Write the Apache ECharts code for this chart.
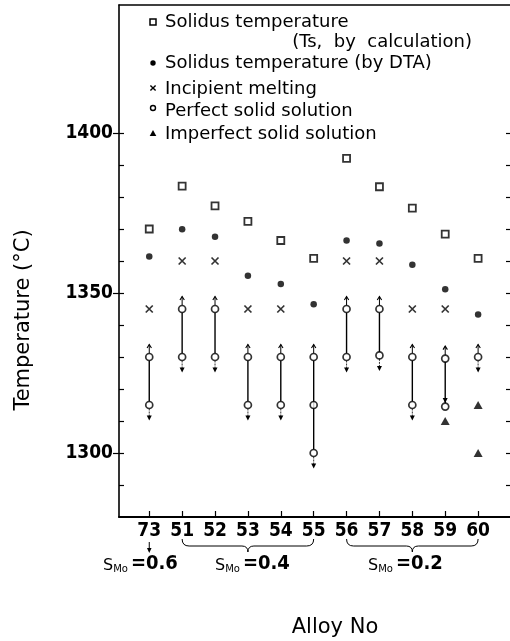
<!DOCTYPE html>
<html>
<head>
<meta charset="utf-8">
<script src="https://cdn.jsdelivr.net/npm/echarts@6/dist/echarts.min.js"></script>
<style>
  html, body { margin: 0; padding: 0; background: #fff; }
  #chart { width: 510px; height: 641px; }
</style>
</head>
<body>
<div id="chart"></div>
<script>
// alloy numbers, left to right
const alloys = ['73', '51', '52', '53', '54', '55', '56', '57', '58', '59', '60'];

// solidus temperature Ts, by calculation (open squares)
const tsCalc = [1370, 1383.4, 1377.2, 1372.4, 1366.4, 1360.8, 1392.1, 1383.2, 1376.5, 1368.4, 1360.8];
// solidus temperature by DTA (filled dots)
const tsDta = [1361.4, 1369.9, 1367.6, 1355.4, 1352.8, 1346.5, 1366.4, 1365.5, 1358.8, 1351.2, 1343.3];
// incipient melting (crosses)
const incipient = [1345, 1360, 1360, 1345, 1345, null, 1360, 1360, 1345, 1345, null];

// perfect solid solution (open circles): upper, middle and lower circle of each range
const perfectTop = [1330, 1345, 1345, 1330, 1330, 1330, 1345, 1345, 1330, 1329.5, 1330];
const perfectMid = [null, null, null, null, null, 1315, null, null, null, null, null];
const perfectBottom = [1315, 1330, 1330, 1315, 1315, 1300, 1330, 1330.5, 1315, 1314.5, null];
// alloys whose down arrow sits on the connecting line
const arrowOnLine = ['59'];

// imperfect solid solution (filled triangles)
const imperfectAlloy = ['59', '60', '60'];
const imperfectTemp = [1310, 1315, 1300];

// axis ticks
const yLabels = [1300, 1350, 1400];
const minorTicks = [1290, 1300, 1310, 1320, 1330, 1340, 1350, 1360, 1370, 1380, 1390, 1400];

// S_Mo groups under the axis
const smoGroups = [
  { from: '73', to: '73', value: '0.6' },
  { from: '51', to: '55', value: '0.4' },
  { from: '56', to: '60', value: '0.2' }
];

const pts = arr => arr.map((v, i) => [i, v]).filter(d => d[1] != null);
const idx = a => alloys.indexOf(a);
const INK = '#000';

const tickFont = {
  fontFamily: '"Liberation Sans Narrow", "Arial Narrow", "DejaVu Sans Condensed", sans-serif',
  fontWeight: 'bold',
  fontSize: 19,
  color: INK
};

const renderRange = (params, api) => {
  const i = api.value(0);
  const topV = api.value(1);
  const botV = api.value(2);
  const top = api.coord([i, topV]);
  const bot = isNaN(botV) ? top : api.coord([i, botV]);
  const x = top[0];
  const r = 3.5;
  const onLine = arrowOnLine.indexOf(alloys[i]) >= 0;
  const children = [];
  if (bot[1] - top[1] > 1) {
    children.push({ type: 'line', shape: { x1: x, y1: top[1] + r, x2: x, y2: bot[1] - r }, style: { stroke: INK, lineWidth: 1.4 } });
  }
  // up arrow above the top circle
  const ua = top[1] - r;
  children.push({ type: 'line', shape: { x1: x, y1: ua, x2: x, y2: ua - 9 }, style: { stroke: INK, lineWidth: 1 } });
  children.push({
    type: 'polyline',
    shape: { points: [[x - 2.2, ua - 5.5], [x, ua - 9], [x + 2.2, ua - 5.5]] },
    style: { stroke: INK, lineWidth: 1.1, fill: null }
  });
  if (onLine) {
    const tip = bot[1] - r;
    children.push({
      type: 'polygon',
      shape: { points: [[x - 2.5, tip - 5], [x + 2.5, tip - 5], [x, tip]] },
      style: { fill: INK }
    });
  } else {
    const da = bot[1] + r;
    children.push({ type: 'line', shape: { x1: x, y1: da, x2: x, y2: da + 8 }, style: { stroke: INK, lineWidth: 0.8, lineDash: [2, 1] } });
    children.push({
      type: 'polygon',
      shape: { points: [[x - 2.5, da + 7], [x + 2.5, da + 7], [x, da + 12]] },
      style: { fill: INK }
    });
  }
  return { type: 'group', children };
};

const chart = echarts.init(document.getElementById('chart'), null, { renderer: 'canvas' });

const yBase = {
  type: 'value',
  min: 1280,
  max: 1440,
  interval: 10,
  splitLine: { show: false }
};

const option = {
  animation: false,
  backgroundColor: '#fff',
  grid: { left: 119, right: 0, top: 5, bottom: 124 },
  xAxis: [
    {
      type: 'value',
      position: 'bottom',
      min: -0.92,
      max: 10.97,
      axisLine: { show: true, onZero: false, lineStyle: { color: INK, width: 2 } },
      axisTick: {
        show: true,
        inside: true,
        length: 6,
        customValues: alloys.map((a, i) => i),
        lineStyle: { color: INK, width: 1.2 }
      },
      axisLabel: {
        show: true,
        margin: 5,
        customValues: alloys.map((a, i) => i),
        formatter: v => alloys[Math.round(v)],
        ...tickFont
      },
      splitLine: { show: false }
    },
    {
      type: 'value',
      position: 'top',
      min: -0.92,
      max: 10.97,
      axisLine: { show: true, onZero: false, lineStyle: { color: INK, width: 1.5 } },
      axisTick: { show: false },
      axisLabel: { show: false },
      splitLine: { show: false }
    }
  ],
  yAxis: [
    {
      ...yBase,
      position: 'left',
      axisLine: { show: true, onZero: false, lineStyle: { color: INK, width: 1.6 } },
      axisTick: { show: true, inside: false, length: 6, customValues: yLabels, lineStyle: { color: INK, width: 1.2 } },
      axisLabel: { show: true, margin: 6, customValues: yLabels, formatter: v => String(v), ...tickFont }
    },
    {
      ...yBase,
      position: 'left',
      offset: 0,
      axisLine: { show: false, onZero: false },
      axisTick: { show: true, inside: true, length: 5, customValues: minorTicks, lineStyle: { color: INK, width: 1.2 } },
      axisLabel: { show: false }
    },
    {
      ...yBase,
      position: 'right',
      axisLine: { show: false, onZero: false },
      axisTick: { show: true, inside: true, length: 4, customValues: minorTicks, lineStyle: { color: INK, width: 1.2 } },
      axisLabel: { show: false }
    }
  ],
  series: [
    {
      name: 'Perfect range',
      type: 'custom',
      renderItem: renderRange,
      data: perfectTop.map((v, i) => [i, v, perfectBottom[i] == null ? NaN : perfectBottom[i]]),
      z: 1
    },
    {
      name: 'Solidus temperature (Ts, by calculation)',
      type: 'scatter',
      symbol: 'rect',
      symbolSize: 7,
      itemStyle: { color: '#fff', borderColor: INK, borderWidth: 1.8 },
      data: pts(tsCalc),
      z: 3
    },
    {
      name: 'Solidus temperature (by DTA)',
      type: 'scatter',
      symbol: 'circle',
      symbolSize: 6.5,
      itemStyle: { color: INK },
      data: pts(tsDta),
      z: 3
    },
    {
      name: 'Incipient melting',
      type: 'scatter',
      symbol: 'path://M0,0L10,10M10,0L0,10',
      symbolSize: 7,
      itemStyle: { color: 'transparent', borderColor: INK, borderWidth: 1.7 },
      data: pts(incipient),
      z: 3
    },
    {
      name: 'Perfect solid solution',
      type: 'scatter',
      symbol: 'circle',
      symbolSize: 7,
      itemStyle: { color: '#fff', borderColor: INK, borderWidth: 1.7 },
      data: pts(perfectTop).concat(pts(perfectMid), pts(perfectBottom)),
      z: 3
    },
    {
      name: 'Imperfect solid solution',
      type: 'scatter',
      symbol: 'triangle',
      symbolSize: [9, 8],
      itemStyle: { color: INK },
      data: imperfectAlloy.map((a, k) => [idx(a), imperfectTemp[k]]),
      z: 3
    }
  ]
};

chart.setOption(option);

// legend, axis titles and S_Mo annotations
const textFont = '"DejaVu Sans", Verdana, sans-serif';
const legendRows = [
  { y: 21, text: 'Solidus temperature' },
  { y: 62, text: 'Solidus temperature (by DTA)' },
  { y: 88, text: 'Incipient melting' },
  { y: 110, text: 'Perfect solid solution' },
  { y: 133, text: 'Imperfect solid solution' }
];
const sx = 153;
const ink = { stroke: INK, lineWidth: 1 };
const graphics = [];
legendRows.forEach(r => {
  graphics.push({
    type: 'text', x: 165, y: r.y + 1,
    style: { text: r.text, font: '18px ' + textFont, fill: INK, textVerticalAlign: 'middle' }
  });
});
graphics.push({
  type: 'text', x: 472, y: 42,
  style: { text: '(Ts,  by  calculation)', font: '18px ' + textFont, fill: INK, textAlign: 'right', textVerticalAlign: 'middle' }
});
graphics.push({ type: 'rect', shape: { x: sx - 3, y: 19, width: 6, height: 6 }, style: { fill: '#fff', stroke: INK, lineWidth: 1.5 } });
graphics.push({ type: 'circle', shape: { cx: sx, cy: 63, r: 2.7 }, style: { fill: INK } });
graphics.push({ type: 'line', shape: { x1: sx - 2.6, y1: 85.5, x2: sx + 2.6, y2: 90.5 }, style: { stroke: INK, lineWidth: 1.4 } });
graphics.push({ type: 'line', shape: { x1: sx + 2.6, y1: 85.5, x2: sx - 2.6, y2: 90.5 }, style: { stroke: INK, lineWidth: 1.4 } });
graphics.push({ type: 'circle', shape: { cx: sx, cy: 108, r: 2.5 }, style: { fill: '#fff', stroke: INK, lineWidth: 1.4 } });
graphics.push({ type: 'polygon', shape: { points: [[sx - 3.3, 136], [sx + 3.3, 136], [sx, 130]] }, style: { fill: INK } });

graphics.push({
  type: 'text', x: 335, y: 628,
  style: { text: 'Alloy No', font: '21px ' + textFont, fill: INK, textAlign: 'center', textVerticalAlign: 'middle' }
});
graphics.push({
  type: 'text', x: 24, y: 320, rotation: Math.PI / 2,
  style: { text: 'Temperature (°C)', font: '21px ' + textFont, fill: INK, textAlign: 'center', textVerticalAlign: 'middle' }
});

const px = a => chart.convertToPixel({ xAxisIndex: 0 }, idx(a));
const quad = (x1, y1, cx, cy, x2, y2) => ({
  type: 'bezierCurve',
  shape: { x1, y1, cpx1: cx, cpy1: cy, x2, y2 },
  style: { ...ink, fill: null }
});
const seg = (x1, y1, x2, y2) => ({ type: 'line', shape: { x1, y1, x2, y2 }, style: ink });
smoGroups.forEach(g => {
  const x1 = px(g.from);
  const x2 = px(g.to);
  const xm = (x1 + x2) / 2;
  if (g.from === g.to) {
    graphics.push(seg(xm, 542, xm, 549));
    graphics.push({ type: 'polygon', shape: { points: [[xm - 2.3, 548], [xm + 2.3, 548], [xm, 553]] }, style: { fill: INK } });
  } else {
    graphics.push(quad(x1, 539, x1, 546, x1 + 7, 546));
    graphics.push(seg(x1 + 7, 546, xm - 6, 546));
    graphics.push(quad(xm - 6, 546, xm, 546, xm, 552));
    graphics.push(quad(xm, 552, xm, 546, xm + 6, 546));
    graphics.push(seg(xm + 6, 546, x2 - 7, 546));
    graphics.push(quad(x2 - 7, 546, x2, 546, x2, 539));
  }
});
const smoX = [103, 215, 368];
smoGroups.forEach((g, k) => {
  graphics.push({
    type: 'text', x: smoX[k], y: 564,
    style: {
      text: '{s|S}{m|Mo}{v|=' + g.value + '}',
      textVerticalAlign: 'middle',
      rich: {
        s: { fontFamily: textFont, fontSize: 16, fill: INK, verticalAlign: 'bottom' },
        m: { fontFamily: textFont, fontSize: 10, fill: INK, verticalAlign: 'bottom', padding: [0, 3, 0, 0] },
        v: { fontFamily: tickFont.fontFamily, fontWeight: 'bold', fontSize: 20, fill: INK, verticalAlign: 'bottom' }
      }
    }
  });
});

chart.setOption({ graphic: graphics });
</script>
</body>
</html>
